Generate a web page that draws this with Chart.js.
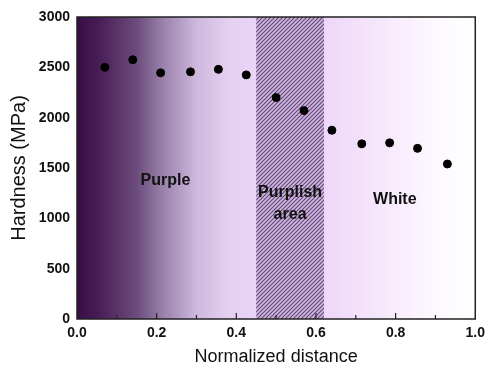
<!DOCTYPE html>
<html>
<head>
<meta charset="utf-8">
<script src="https://cdn.jsdelivr.net/npm/chart.js@4"></script>
<style>
  html, body { margin: 0; padding: 0; background: #ffffff; }
  #wrap { width: 491px; height: 370px; position: relative; }
</style>
</head>
<body>
<div id="wrap"><canvas id="c" width="491" height="370"></canvas></div>
<script>
// ---- data ----
const distance = [0.07, 0.14, 0.21, 0.285, 0.355, 0.425, 0.50, 0.57, 0.64, 0.715, 0.785, 0.855, 0.93];
const hardness = [2500, 2575, 2445, 2455, 2480, 2425, 2200, 2070, 1875, 1740, 1750, 1695, 1540];
const xTicks = [0.0, 0.2, 0.4, 0.6, 0.8, 1.0];
const yTicks = [0, 500, 1000, 1500, 2000, 2500, 3000];
const bandRange = [0.45, 0.62];
const regionLabels = ["Purple", "Purplish", "area", "White"];
const regionLabelX = [0.222, 0.535, 0.535, 0.798];
const regionLabelY = [1370, 1255, 1035, 1190];

const FONT = "'Liberation Sans', Arial, sans-serif";

function makeHatch(ctx) {
  const t = document.createElement('canvas');
  t.width = 4; t.height = 4;
  const g = t.getContext('2d');
  g.fillStyle = '#cfb9e0';
  g.fillRect(0, 0, 4, 4);
  g.strokeStyle = '#654878';
  g.lineWidth = 1.2;
  g.beginPath();
  g.moveTo(-1, 5); g.lineTo(5, -1);
  g.moveTo(-1, 1); g.lineTo(1, -1);
  g.moveTo(3, 5); g.lineTo(5, 3);
  g.stroke();
  return ctx.createPattern(t, 'repeat');
}

const bgPlugin = {
  id: 'bg',
  beforeDraw(chart) {
    const { ctx, chartArea: a, scales } = chart;
    ctx.save();
    const grad = ctx.createLinearGradient(a.left, 0, a.right, 0);
    grad.addColorStop(0.00, '#3a0c46');
    grad.addColorStop(0.06, '#4a2058');
    grad.addColorStop(0.15, '#6c4c7c');
    grad.addColorStop(0.22, '#9c84ac');
    grad.addColorStop(0.30, '#ceb8de');
    grad.addColorStop(0.38, '#e4d0f0');
    grad.addColorStop(0.45, '#ead4f8');
    grad.addColorStop(0.62, '#eed6f8');
    grad.addColorStop(0.80, '#f8ecfc');
    grad.addColorStop(0.90, '#fdf9ff');
    grad.addColorStop(1.00, '#ffffff');
    ctx.fillStyle = grad;
    ctx.fillRect(a.left, a.top, a.right - a.left, a.bottom - a.top);
    const x0 = scales.x.getPixelForValue(bandRange[0]);
    const x1 = scales.x.getPixelForValue(bandRange[1]);
    ctx.fillStyle = makeHatch(ctx);
    ctx.fillRect(x0, a.top, x1 - x0, a.bottom - a.top);
    // region labels
    ctx.fillStyle = '#111';
    ctx.font = 'bold 16px ' + FONT;
    ctx.textAlign = 'center';
    ctx.textBaseline = 'middle';
    for (let i = 0; i < regionLabels.length; i++) {
      ctx.fillText(regionLabels[i], scales.x.getPixelForValue(regionLabelX[i]), scales.y.getPixelForValue(regionLabelY[i]));
    }
    ctx.restore();
  },
  afterDraw(chart) {
    const { ctx, chartArea: a, scales } = chart;
    ctx.save();
    ctx.strokeStyle = '#222';
    ctx.lineWidth = 1.5;
    ctx.strokeRect(a.left, a.top, a.right - a.left, a.bottom - a.top);
    ctx.lineWidth = 1.2;
    ctx.beginPath();
    for (let k = 1; k < 10; k++) {
      const px = scales.x.getPixelForValue(k / 10);
      const len = (k % 2 === 0) ? 6 : 4;
      ctx.moveTo(px, a.bottom); ctx.lineTo(px, a.bottom - len);
    }
    for (let k = 1; k < 12; k++) {
      const py = scales.y.getPixelForValue(k * 250);
      const len = (k % 2 === 0) ? 6 : 4;
      ctx.moveTo(a.left, py); ctx.lineTo(a.left + len, py);
    }
    ctx.stroke();
    ctx.restore();
  }
};

new Chart(document.getElementById('c'), {
  type: 'scatter',
  data: {
    datasets: [{
      data: distance.map((d, i) => ({ x: d, y: hardness[i] })),
      backgroundColor: '#000',
      borderColor: '#000',
      pointRadius: 4,
      pointHoverRadius: 4
    }]
  },
  options: {
    responsive: false,
    animation: false,
    events: [],
    layout: { padding: { top: 17, right: 8, left: 0, bottom: 0 } },
    plugins: { legend: { display: false }, tooltip: { enabled: false } },
    scales: {
      x: {
        type: 'linear', min: 0, max: 1,
        afterBuildTicks(s) { s.ticks = xTicks.map(v => ({ value: v })); },
        afterFit(s) { s.height = 51; },
        grid: { display: false, drawTicks: false },
        border: { display: false },
        ticks: {
          padding: 6, color: '#111', maxRotation: 0,
          font: { family: FONT, size: 14, weight: 'bold' },
          callback: v => Number(v).toFixed(1)
        },
        title: {
          display: true, text: 'Normalized distance', color: '#111',
          font: { family: FONT, size: 18 }, padding: { top: 4, bottom: 2 }
        }
      },
      y: {
        type: 'linear', min: 0, max: 3000,
        afterBuildTicks(s) { s.ticks = yTicks.map(v => ({ value: v })); },
        afterFit(s) { s.width = 77; },
        grid: { display: false, drawTicks: false },
        border: { display: false },
        ticks: {
          padding: 7, color: '#111',
          font: { family: FONT, size: 14, weight: 'bold' },
          callback: v => String(v)
        },
        title: {
          display: true, text: 'Hardness (MPa)', color: '#111',
          font: { family: FONT, size: 20 }, padding: { top: 7, bottom: 4 }
        }
      }
    }
  },
  plugins: [bgPlugin]
});
</script>
</body>
</html>
